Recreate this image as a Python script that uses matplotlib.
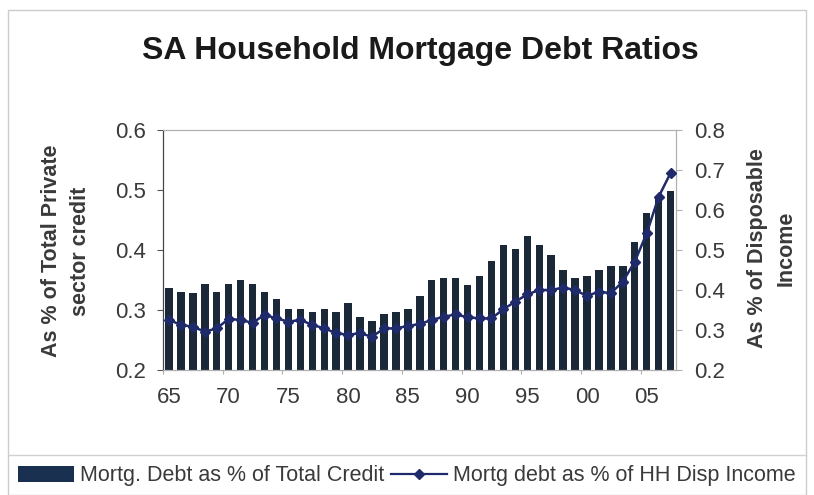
import numpy as np
import matplotlib
matplotlib.use("Agg")
import matplotlib.pyplot as plt
from matplotlib.patches import Patch, Rectangle
from matplotlib.lines import Line2D

plt.rcParams['font.family'] = ['Liberation Sans', 'DejaVu Sans']

# Annual series, 1965-2007
years = np.arange(1965, 2008)

# Mortgage debt as share of total private sector credit (left axis)
share_of_credit = [
    0.337, 0.330, 0.328, 0.344, 0.330, 0.344, 0.350, 0.344, 0.330, 0.319,
    0.301, 0.301, 0.297, 0.301, 0.297, 0.311, 0.288, 0.281, 0.294, 0.297,
    0.301, 0.323, 0.350, 0.353, 0.353, 0.341, 0.357, 0.381, 0.408, 0.401,
    0.424, 0.408, 0.391, 0.367, 0.354, 0.357, 0.367, 0.374, 0.374, 0.414,
    0.462, 0.490, 0.499,
]

# Mortgage debt as share of household disposable income (right axis)
share_of_income = [
    0.325, 0.313, 0.308, 0.296, 0.304, 0.328, 0.325, 0.318, 0.338, 0.329,
    0.321, 0.325, 0.313, 0.304, 0.292, 0.288, 0.292, 0.283, 0.304, 0.304,
    0.310, 0.315, 0.325, 0.333, 0.339, 0.332, 0.329, 0.329, 0.352, 0.371,
    0.389, 0.400, 0.400, 0.406, 0.400, 0.385, 0.396, 0.392, 0.421, 0.471,
    0.542, 0.633, 0.693,
]

xtick_years = [1965, 1970, 1975, 1980, 1985, 1990, 1995, 2000, 2005]
xtick_labels = ['65', '70', '75', '80', '85', '90', '95', '00', '05']
left_ticks = [0.2, 0.3, 0.4, 0.5, 0.6]
right_ticks = [0.2, 0.3, 0.4, 0.5, 0.6, 0.7, 0.8]

bar_color = '#1b2838'
line_color = '#1f2a6b'
text_color = '#3a3a3a'
frame_color = '#b0b0b0'

W, H = 814, 495
fig = plt.figure(figsize=(W / 100, H / 100), dpi=100)

# outer chart border and legend separator
fig.add_artist(Rectangle((8 / W, 0), 798 / W, 1 - 10 / H, transform=fig.transFigure,
                         fill=False, edgecolor='#cccccc', linewidth=1.0))
fig.add_artist(Line2D([8 / W, 806 / W], [1 - 455 / H, 1 - 455 / H],
                      transform=fig.transFigure, color='#d0d0d0', linewidth=1.0))

ax = fig.add_axes([163 / W, 1 - 370 / H, (676 - 163) / W, (370 - 130) / H])
ax2 = ax.twinx()

ax.bar(years, share_of_credit, width=0.62, color=bar_color, zorder=2)
ax2.plot(years, share_of_income, color=line_color, linewidth=1.8,
         marker='D', markersize=5, zorder=3)

ax.set_xlim(1964.5, 2007.45)
ax.set_ylim(0.2, 0.6)
ax2.set_ylim(0.2, 0.8)

ax.set_yticks(left_ticks)
ax.set_yticklabels([f'{v:.1f}' for v in left_ticks])
ax2.set_yticks(right_ticks)
ax2.set_yticklabels([f'{v:.1f}' for v in right_ticks])

# ticks sit on category boundaries, labels under the bars
ax.set_xticks([y - 0.5 for y in xtick_years])
ax.set_xticklabels([])
ax.set_xticks(xtick_years, minor=True)
ax.set_xticklabels(xtick_labels, minor=True)
ax.tick_params(axis='x', which='major', length=3, color=frame_color)
ax.tick_params(axis='x', which='minor', length=0, pad=12,
               labelsize=16, labelcolor=text_color)
ax.tick_params(axis='y', length=4, color='#555555', pad=8,
               labelsize=16, labelcolor=text_color)
ax2.tick_params(axis='y', length=4, color=frame_color, pad=9,
                labelsize=16, labelcolor=text_color)

for a in (ax, ax2):
    for side in ('top', 'right', 'bottom'):
        a.spines[side].set_color(frame_color)
    a.spines['left'].set_color('#444444')

fig.text(420 / W, 1 - 51 / H, 'SA Household Mortgage Debt Ratios',
         ha='center', va='center', fontsize=23, fontweight='bold', color='#1a1a1a')

fig.text(66 / W, 1 - 251 / H, 'As % of Total Private\nsector credit',
         rotation=90, ha='center', va='center', multialignment='center',
         fontsize=15.5, fontweight='bold', color=text_color, linespacing=1.55)
fig.text(772 / W, 1 - 248 / H, 'As % of Disposable\nIncome',
         rotation=90, ha='center', va='center', multialignment='center',
         fontsize=15.5, fontweight='bold', color=text_color, linespacing=1.5)

handles = [
    Patch(facecolor='#1a3050', edgecolor='none'),
    Line2D([], [], color=line_color, linewidth=1.6, marker='D', markersize=5),
]
labels = ['Mortg. Debt as % of Total Credit', 'Mortg debt as % of HH Disp Income']
fig.legend(handles, labels, loc='center', bbox_to_anchor=(407 / W, 1 - 476 / H),
           ncol=2, frameon=False, fontsize=15.5, handlelength=2.6,
           handletextpad=0.3, columnspacing=0.3, labelcolor=text_color)

fig.savefig('out.png', dpi=100)
